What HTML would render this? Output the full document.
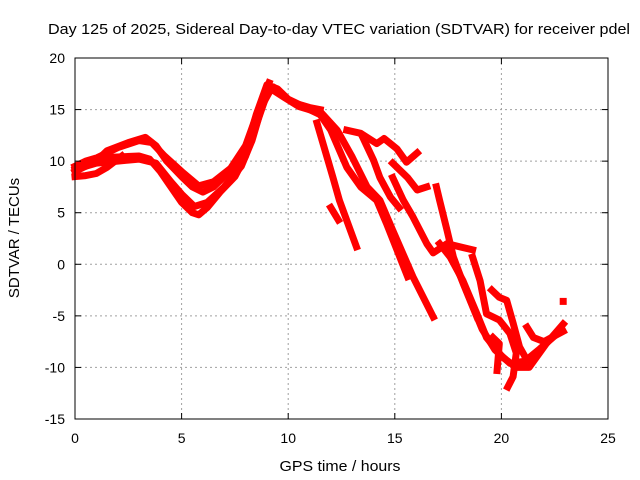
<!DOCTYPE html>
<html><head><meta charset="utf-8"><style>
html,body{margin:0;padding:0;background:#fff}
svg{display:block;font-family:"Liberation Sans",sans-serif}
</style></head><body>
<svg id="chart" width="640" height="480">
<text x="339" y="34" text-anchor="middle" font-size="15" textLength="582" lengthAdjust="spacingAndGlyphs">Day 125 of 2025, Sidereal Day-to-day VTEC variation (SDTVAR) for receiver pdel</text>
<text x="340" y="471" text-anchor="middle" font-size="15" textLength="121" lengthAdjust="spacingAndGlyphs">GPS time / hours</text>
<text transform="translate(19,238) rotate(-90)" text-anchor="middle" font-size="15">SDTVAR / TECUs</text>
<g id="grid"></g><g id="series"></g><g id="axes"></g>
</svg>
<script>
const xTicks=[0,5,10,15,20,25];
const yTicks=[-15,-10,-5,0,5,10,15,20];
const trackA=[[0,9.5],[0.5,10],[1,10.3],[2,10.4],[3,10.5],[3.5,10.2],[4,9],[4.5,7.5],[5,6],[5.5,5],[5.8,4.8],[6.2,5.5],[6.8,7],[7.5,8.5],[8,10.5],[8.5,13.5],[9,16.5],[9.3,17.2],[9.7,16.5],[10,16],[10.5,15.5],[11,15],[11.5,14.5]];
const trackA2=[[0,9.2],[1,9.8],[2,10],[3,10.2],[3.8,9.8],[4.5,8],[5,6.8],[5.6,5.6],[6.2,6],[7,7.5],[7.8,9.5],[8.3,12],[8.8,15.5],[9.2,17],[9.8,16.2],[10.5,15.3],[11.3,14.8]];
const trackB=[[0,9],[1,10],[1.5,11],[2.5,11.8],[3.3,12.3],[3.8,11.5],[4.3,10],[5,8.5],[5.5,7.5],[6,7],[6.5,7.5],[7,8.5],[7.5,9.5],[8,11],[8.5,14.5],[9,17.4],[9.5,17],[10,16],[10.5,15.5],[11,15.2],[11.5,15]];
const trackB2=[[1.2,10.5],[2,11.3],[3,12],[3.6,11.8],[4.2,10.5],[5,9],[5.8,7.6],[6.5,8],[7.3,9.3],[8,11.5],[8.7,15.5],[9.1,17.6]];
const trackC=[[0,8.5],[0.5,8.6],[1,8.8],[1.5,9.4],[2.2,10.5]];
const branch1=[[11.35,13.7],[12.1,8.4],[12.4,6.2],[13.2,1.7]];
const branch1b=[[12,5.5],[12.35,4.3]];
const branch2=[[11.5,14.5],[12,13],[12.75,9.4],[13.4,7.5],[14.15,6.2],[14.6,4],[15.6,-1.2]];
const branch3=[[11.5,14.8],[12.3,13],[13,10.4],[13.7,7.5],[14.3,6.2],[14.9,3.3],[15.85,-1.2],[16.8,-5.1]];
const branch4=[[12.75,13],[13.4,12.7],[14.15,11.7],[14.5,12.2],[15.1,11.2],[15.55,9.9],[16.05,10.8]];
const branch5=[[13.5,12.3],[14,10.1],[14.3,8.4],[14.8,6.5],[15.2,5.5]];
const branch6=[[14.9,9.8],[15.6,8.4],[16.05,7.2],[16.5,7.5]];
const branch7=[[14.9,8.4],[15.4,6.2],[15.85,4.6],[16.5,2],[16.8,1.1],[17.45,2],[18.05,1.7],[18.65,1.4]];
const branch8=[[16.95,7.5],[17.1,6.2],[17.45,3.3],[17.75,0.7],[18.2,-1.8],[18.85,-5.1]];
const band1=[[17.1,2],[17.6,0.7],[18.2,-1.6],[18.85,-4.8],[19.3,-7.1],[20.05,-9],[20.7,-10],[21.3,-10],[22.1,-7.7],[22.9,-5.8]];
const band1b=[[17.4,1.5],[18,-0.8],[18.6,-3.8],[19.1,-6.3],[19.7,-8.3],[20.4,-9.6],[21.1,-9.4],[21.8,-8.2],[22.8,-6.4]];
const band2=[[18.65,0.7],[19,-1.6],[19.3,-4.8],[19.9,-5.4],[20.4,-6.7],[20.7,-8.6],[20.55,-10.9],[20.3,-11.9]];
const band3=[[19.55,-2.5],[19.9,-3.2],[20.25,-3.5],[20.55,-5.7],[20.85,-8],[21.2,-9.3]];
const band4=[[19.6,-7.1],[19.9,-7.7],[19.8,-10.3]];
const band5=[[21.2,-6.1],[21.5,-7.1],[22,-7.5],[22.9,-6.5]];
const band6=[[22.9,-3.6],[22.9,-3.6]];
const allSeries=[trackA,trackA2,trackB,trackB2,trackC,branch1,branch1b,branch2,branch3,branch4,branch5,branch6,branch7,branch8,band1,band1b,band2,band3,band4,band5,band6];

const L=75,R=608,T=58,B=419;
const xs=h=>L+(h-0)/(25-0)*(R-L);
const ys=v=>B-(v+15)/(35)*(B-T);
const NS="http://www.w3.org/2000/svg";
function mk(tag,attrs,parent){const e=document.createElementNS(NS,tag);for(const k in attrs)e.setAttribute(k,attrs[k]);parent.appendChild(e);return e;}
const grid=document.getElementById('grid'),axes=document.getElementById('axes'),ser=document.getElementById('series');
xTicks.forEach(t=>{
  const x=xs(t);
  if(t>0&&t<25){const g=mk('line',{x1:x,x2:x,y1:T,y2:B,stroke:'#a0a0a0','stroke-dasharray':'2,3'},grid);
  
  }
  mk('line',{x1:x,x2:x,y1:B,y2:B-6,stroke:'#000'},axes);
  mk('line',{x1:x,x2:x,y1:T,y2:T+6,stroke:'#000'},axes);
  const lb=mk('text',{x:x,y:B+24,'text-anchor':'middle','font-size':14},axes);
  lb.textContent=t;
  
  
});
yTicks.forEach(t=>{
  const y=ys(t);
  if(t>-15&&t<20){const g=mk('line',{x1:L,x2:R,y1:y,y2:y,stroke:'#a0a0a0','stroke-dasharray':'2,3'},grid);
  
  }
  mk('line',{x1:L,x2:L+6,y1:y,y2:y,stroke:'#000'},axes);
  mk('line',{x1:R,x2:R-6,y1:y,y2:y,stroke:'#000'},axes);
  const lb=mk('text',{x:L-10,y:y+5,'text-anchor':'end','font-size':14},axes);
  lb.textContent=t;
  
  
});
const fr=mk('rect',{x:L,y:T,width:R-L,height:B-T,fill:'none',stroke:'#000'},axes);


allSeries.forEach((s,i)=>{
  const d=s.map((p,j)=>(j?'L':'M')+xs(p[0]).toFixed(1)+','+ys(p[1]).toFixed(1)).join(' ');
  const p=mk('path',{d:d,fill:'none',stroke:'#ff0000','stroke-width':7,'stroke-linejoin':'round','stroke-linecap':'square'},ser);
  
  
});
</script>
</body></html>
